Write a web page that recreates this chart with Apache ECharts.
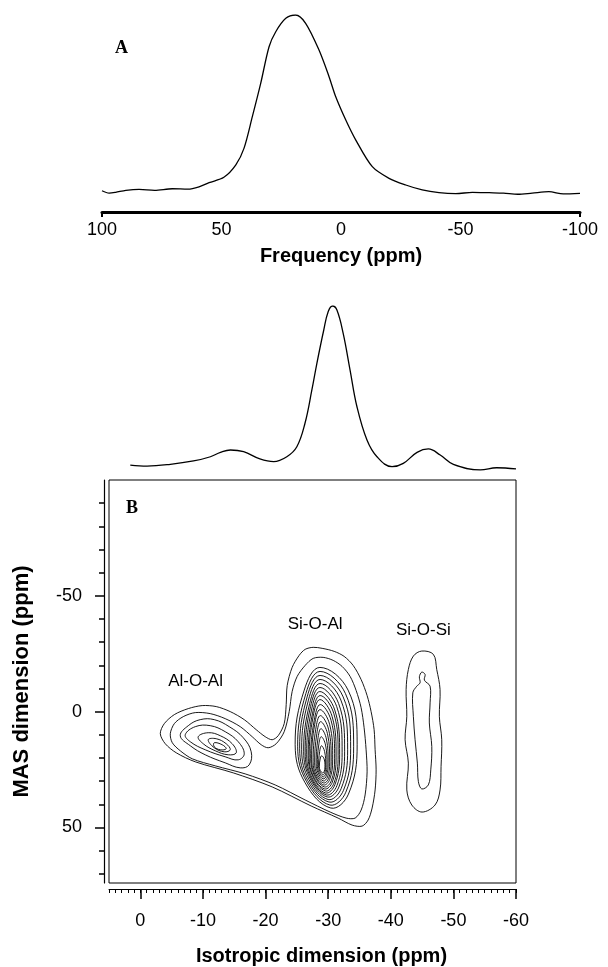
<!DOCTYPE html>
<html><head><meta charset="utf-8">
<script src="https://cdn.jsdelivr.net/npm/echarts@6/dist/echarts.min.js"></script>
<style>html,body{margin:0;padding:0;background:#fff}#c{width:608px;height:967px}</style>
</head><body><div id="c"></div>
<script>
// Panel A: 1D spectrum (ppm, relative intensity)
const specA_ppm = [100,97,94.3,90,84.5,78,70.6,64,59.4,55.2,49,44,40.6,37.1,33.6,30.1,27.3,23.1,19,14.8,9.2,5,2.2,-2,-6.2,-13.1,-20.1,-27.1,-34,-41,-48,-55,-62,-68,-74,-80,-87,-93,-100];
const specA_int = [10.8,9.6,10.0,11.0,11.5,11.0,11.8,11.6,12.8,14.9,17.6,23.9,32.3,48.4,65.3,83.9,91.5,98.3,100,95.8,82.2,68.7,58.5,46.7,36.5,23.0,17.1,13.7,11.2,9.8,9.3,10.0,9.8,9.6,9.0,9.6,10.3,9.2,9.5];

// Projection onto the isotropic dimension
const proj_ppm = [1.6,-1.07,-4.8,-8.5,-11.2,-12.8,-14.4,-16.5,-19.1,-21.3,-23.4,-25.0,-26.3,-27.4,-28.2,-29.3,-30.0,-30.7,-31.4,-32.4,-33.5,-34.6,-36.2,-37.8,-40.2,-42.0,-44.2,-46.0,-47.9,-50.0,-54.3,-56.9,-60.0];
const proj_int = [5.9,5.3,6.3,8.3,10.8,13.4,14.8,13.8,9.5,7.9,10.8,16.7,30.6,50.3,66.1,85.8,96.6,100,97.6,83.8,62.1,40.4,20.7,10.8,4.9,6.9,13.4,15.4,11.8,6.3,3.0,4.3,3.6];

// Tick values
const freqEnds = [100,-100];
const isoTicks = [0,-10,-20,-30,-40,-50,-60];
const masTicks = [-50,0,50];
const masMinor = [-90,-80,-70,-60,-50,-40,-30,-20,-10,0,10,20,30,40,50,60,70];

// Contours: [isotropic ppm, MAS ppm]
const outerContours = [
 [[-3.19,9.54],[-3.83,5.20],[-5.43,1.30],[-7.66,-1.30],[-9.89,-2.60],[-12.13,-2.17],[-14.36,0],[-16.60,3.47],[-18.51,7.81],[-19.95,10.84],[-21.06,12.14],[-22.02,10.41],[-22.98,5.20],[-23.30,-3.04],[-23.46,-11.27],[-24.25,-19.08],[-25.37,-24.28],[-26.33,-26.89],[-27.61,-27.75],[-29.04,-27.32],[-30.96,-26.02],[-32.55,-23.85],[-33.99,-19.95],[-35.26,-13.88],[-36.22,-6.94],[-36.86,0],[-37.34,7.81],[-37.50,16.48],[-37.66,25.15],[-37.50,33.82],[-37.02,41.63],[-36.38,46.83],[-35.42,49.44],[-33.83,49.00],[-31.59,45.97],[-27.29,40.76],[-21.06,32.52],[-14.84,26.45],[-8.78,21.68],[-5.74,17.78],[-3.99,13.88]],
 [[-4.79,9.54],[-5.43,5.20],[-6.86,2.17],[-8.78,0.43],[-11.17,0.87],[-13.56,3.04],[-15.96,6.50],[-17.87,10.84],[-19.31,14.31],[-20.42,15.61],[-21.70,13.88],[-22.98,8.67],[-23.78,0],[-24.25,-8.67],[-25.05,-15.18],[-26.33,-19.95],[-27.61,-22.98],[-29.20,-23.42],[-30.80,-22.12],[-32.23,-19.51],[-33.51,-15.18],[-34.47,-9.11],[-35.26,-1.73],[-35.74,6.94],[-36.06,16.48],[-36.22,26.02],[-35.90,35.99],[-35.27,42.50],[-34.31,45.97],[-32.87,45.97],[-30.32,43.37],[-26.33,38.16],[-21.54,31.66],[-16.75,26.89],[-11.97,23.42],[-8.30,20.38],[-6.38,16.91],[-5.11,13.44]]
];
const alContours = [
 [[-6.38,10.41],[-7.66,6.07],[-9.57,3.47],[-11.81,3.47],[-14.20,6.50],[-16.44,11.27],[-17.71,17.35],[-17.39,22.98],[-15.96,24.28],[-13.56,22.12],[-10.37,18.65],[-7.98,14.74]],
 [[-7.18,9.97],[-8.78,6.50],[-11.17,6.07],[-13.56,8.67],[-15.64,13.01],[-16.60,18.21],[-15.64,20.82],[-13.56,19.51],[-10.37,16.48],[-7.98,13.01]],
 [[-9.25,10.84],[-10.85,9.11],[-12.77,10.41],[-14.68,13.88],[-15.32,17.78],[-14.04,18.65],[-11.97,16.91],[-10.05,13.88]],
 [[-10.85,12.14],[-12.13,11.71],[-13.72,13.88],[-14.36,16.48],[-13.40,17.35],[-11.81,15.61]],
 [[-11.81,13.44],[-13.08,14.31],[-13.72,16.04],[-12.77,16.48],[-11.81,15.18]]
];
const siAlContours = [
 [[-28.69,-19.08],[-33.18,-9.30],[-34.63,14.31],[-33.24,35.62],[-30.42,41.63],[-26.31,30.70],[-24.73,14.31],[-26.18,-9.30]],
 [[-28.71,-17.34],[-32.76,-7.81],[-34.07,15.18],[-32.82,34.80],[-30.27,40.33],[-26.56,30.27],[-25.13,15.18],[-26.44,-7.81]],
 [[-28.71,-15.61],[-32.40,-6.33],[-33.59,16.05],[-32.45,33.97],[-30.13,39.03],[-26.75,29.84],[-25.45,16.05],[-26.64,-6.33]],
 [[-28.71,-13.88],[-32.03,-4.98],[-33.11,16.48],[-32.08,33.23],[-29.99,37.95],[-26.94,29.36],[-25.77,16.48],[-26.85,-4.98]],
 [[-28.71,-12.14],[-31.67,-3.50],[-32.63,17.35],[-31.71,32.57],[-29.85,36.86],[-27.14,29.06],[-26.09,17.35],[-27.05,-3.50]],
 [[-28.69,-10.41],[-31.37,-2.15],[-32.23,17.78],[-31.40,31.98],[-29.72,35.99],[-27.27,28.71],[-26.33,17.78],[-27.19,-2.15]],
 [[-28.67,-8.67],[-31.06,-0.67],[-31.83,18.65],[-31.09,31.50],[-29.59,35.13],[-27.41,28.54],[-26.57,18.65],[-27.34,-0.67]],
 [[-28.72,-6.94],[-30.89,0.68],[-31.59,19.08],[-30.92,30.92],[-29.56,34.26],[-27.57,28.19],[-26.81,19.08],[-27.51,0.68]],
 [[-28.69,-5.20],[-30.64,2.17],[-31.27,19.95],[-30.67,30.43],[-29.44,33.39],[-27.66,28.01],[-26.97,19.95],[-27.60,2.17]],
 [[-28.74,-3.04],[-30.47,3.82],[-31.03,20.38],[-30.50,29.85],[-29.41,32.52],[-27.82,27.66],[-27.21,20.38],[-27.77,3.82]],
 [[-28.70,-0.86],[-30.23,5.49],[-30.72,20.82],[-30.25,29.28],[-29.29,31.66],[-27.90,27.32],[-27.36,20.82],[-27.85,5.49]],
 [[-28.75,1.73],[-30.06,7.58],[-30.48,21.68],[-30.08,28.79],[-29.26,30.79],[-28.06,27.15],[-27.60,21.68],[-28.02,7.58]],
 [[-28.80,4.34],[-29.89,9.55],[-30.24,22.12],[-29.90,28.21],[-29.22,29.93],[-28.22,26.81],[-27.84,22.12],[-28.19,9.55]],
 [[-28.85,7.37],[-29.72,11.82],[-30.00,22.55],[-29.73,27.62],[-29.18,29.05],[-28.39,26.45],[-28.08,22.55],[-28.36,11.82]],
 [[-28.89,10.84],[-29.58,14.40],[-29.81,22.98],[-29.59,27.04],[-29.16,28.18],[-28.52,26.10],[-28.27,22.98],[-28.50,14.40]],
 [[-28.93,14.75],[-29.44,17.29],[-29.61,23.42],[-29.45,26.46],[-29.13,27.32],[-28.65,25.76],[-28.47,23.42],[-28.64,17.29]],
 [[-28.95,19.08],[-29.36,20.48],[-29.49,23.85],[-29.36,25.88],[-29.11,26.45],[-28.74,25.41],[-28.59,23.85],[-28.72,20.48]]
];
const siSiContours = [
 [[-44.95,-26.15],[-46.80,-24.72],[-47.34,-18.21],[-47.87,-9.54],[-47.76,2.04],[-48.14,12.14],[-48.03,23.72],[-47.87,33.82],[-47.07,40.33],[-45.00,43.37],[-43.36,40.33],[-42.56,33.82],[-42.81,22.25],[-42.29,12.14],[-42.56,2.04],[-42.45,-9.54],[-42.81,-18.21],[-43.61,-23.98]],
 [[-44.95,-17.04],[-45.48,-16.05],[-45.37,-13.57],[-46.28,-10.97],[-46.28,-3.77],[-46.16,4.90],[-46.55,15.05],[-46.39,25.15],[-46.00,31.66],[-44.95,33.39],[-44.41,30.23],[-44.25,22.25],[-43.88,12.14],[-43.61,2.04],[-43.52,-8.11],[-44.15,-10.97],[-44.68,-12.45],[-44.57,-15.05]]
];
const peakNames = ['Al-O-Al','Si-O-Al','Si-O-Si'];
const peakLabelPos = [[-8.82,-13.14],[-27.92,-37.73],[-45.21,-35.13]];

const FONT = '"Liberation Sans", Arial, sans-serif';
const chart = echarts.init(document.getElementById('c'), null, {renderer:'canvas'});

function contourSeries(loops, smooth) {
  return {
    type:'custom', xAxisIndex:3, yAxisIndex:3, coordinateSystem:'cartesian2d',
    silent:true, animation:false, clip:true,
    data: loops.map((l,i)=>[l[0][0], l[0][1], i]),
    encode:{x:0, y:1},
    renderItem:(params, api)=>{
      const pts = loops[params.dataIndex].map(p=>api.coord(p));
      return {type:'polygon', shape:{points:pts, smooth:smooth},
        style:{fill:'none', stroke:'#000', lineWidth:0.9}};
    }
  };
}

const noSplit = {show:false};
const option = {
  animation:false,
  backgroundColor:'#fff',
  textStyle:{fontFamily:FONT, color:'#000'},
  grid:[
    {left:102, width:478, top:15, height:197, outerBoundsMode:'none'},
    {left:109, width:407, top:306, height:169, outerBoundsMode:'none'},
    {left:109, width:407, top:480, height:403, show:true, borderColor:'#000', borderWidth:1, outerBoundsMode:'none'}
  ],
  xAxis:[
    {gridIndex:0, type:'value', position:'bottom', min:-100, max:100, interval:50, inverse:true,
     axisLine:{onZero:false, lineStyle:{color:'#000', width:3}},
     axisTick:{customValues:freqEnds, length:5, lineStyle:{color:'#000', width:2}},
     axisLabel:{fontSize:18, color:'#000', margin:9, fontFamily:FONT},
     splitLine:noSplit,
     name:'Frequency (ppm)', nameLocation:'middle', nameGap:34,
     nameTextStyle:{fontSize:20, fontWeight:'bold', color:'#000', fontFamily:FONT}},
    {gridIndex:1, type:'value', min:-60, max:5, inverse:true, show:false},
    {gridIndex:2, type:'value', position:'bottom', min:-60, max:5, interval:1, inverse:true, offset:6,
     axisLine:{onZero:false, lineStyle:{color:'#000', width:1}},
     axisTick:{length:4, lineStyle:{color:'#000'}},
     axisLabel:{show:false}, splitLine:noSplit},
    {gridIndex:2, type:'value', position:'bottom', min:-60, max:5, interval:10, inverse:true, offset:6,
     axisLine:{onZero:false, show:false},
     axisTick:{customValues:isoTicks, length:10, lineStyle:{color:'#000', width:1.5}},
     axisLabel:{customValues:isoTicks, fontSize:18, color:'#000', margin:23, fontFamily:FONT},
     splitLine:noSplit,
     name:'Isotropic dimension (ppm)', nameLocation:'middle', nameGap:57,
     nameTextStyle:{fontSize:20, fontWeight:'bold', color:'#000', fontFamily:FONT, padding:[0,0,0,18]}}
  ],
  yAxis:[
    {gridIndex:0, type:'value', min:0, max:100, show:false},
    {gridIndex:1, type:'value', min:0, max:100, show:false},
    {gridIndex:2, type:'value', position:'left', min:-100, max:74, interval:10, inverse:true, offset:5,
     axisLine:{onZero:false, lineStyle:{color:'#000', width:1.2}},
     axisTick:{customValues:masMinor, length:5, lineStyle:{color:'#000', width:1.5}},
     axisLabel:{show:false}, splitLine:noSplit},
    {gridIndex:2, type:'value', position:'left', min:-100, max:74, interval:10, inverse:true, offset:5,
     axisLine:{onZero:false, show:false},
     axisTick:{customValues:masTicks, length:9, lineStyle:{color:'#000', width:1.5}},
     axisLabel:{customValues:masTicks, fontSize:18, color:'#000', margin:22, fontFamily:FONT},
     splitLine:noSplit,
     name:'MAS dimension (ppm)', nameLocation:'middle', nameGap:71, nameRotate:90,
     nameTextStyle:{fontSize:22, fontWeight:'bold', color:'#000', fontFamily:FONT}}
  ],
  series:[
    {type:'line', xAxisIndex:0, yAxisIndex:0, data:specA_ppm.map((x,i)=>[x, specA_int[i]]),
     symbol:'none', smooth:0.3, lineStyle:{color:'#000', width:1.3}},
    {type:'line', xAxisIndex:1, yAxisIndex:1, data:proj_ppm.map((x,i)=>[x, proj_int[i]]),
     symbol:'none', smooth:0.4, lineStyle:{color:'#000', width:1.3}},
    contourSeries(outerContours, 0.3),
    contourSeries(alContours, 0.4),
    contourSeries(siAlContours, 0.4),
    contourSeries(siSiContours, 0.35),
    {type:'custom', xAxisIndex:3, yAxisIndex:3, coordinateSystem:'cartesian2d', silent:true,
     data: peakLabelPos.map((p,i)=>[p[0], p[1], i]), encode:{x:0, y:1},
     renderItem:(params, api)=>{
       const c = api.coord([api.value(0), api.value(1)]);
       return {type:'text', x:c[0], y:c[1], style:{text:peakNames[params.dataIndex],
         fill:'#000', font:'17px ' + FONT, align:'center', verticalAlign:'middle'}};
     }}
  ],
  graphic:[
    {type:'text', left:115, top:39, style:{text:'A', font:'bold 18px "Liberation Serif", "Times New Roman", serif', fill:'#000'}},
    {type:'text', left:126, top:499, style:{text:'B', font:'bold 18px "Liberation Serif", "Times New Roman", serif', fill:'#000'}}
  ]
};
chart.setOption(option);
</script></body></html>
